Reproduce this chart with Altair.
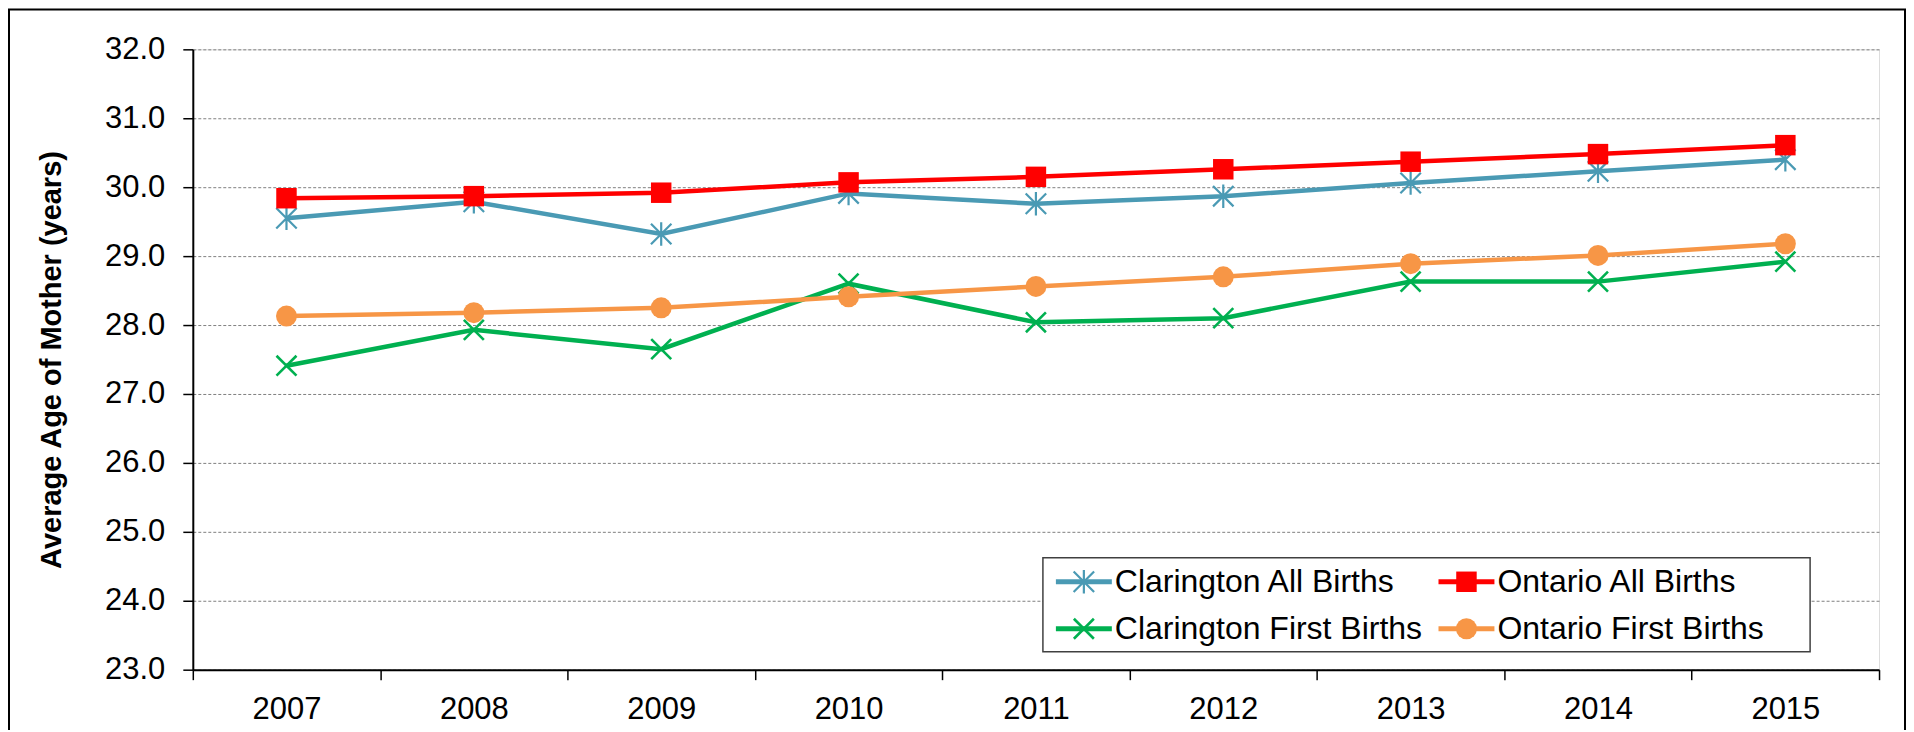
import altair as alt
import pandas as pd

# ---------------- data ----------------
years = [2007, 2008, 2009, 2010, 2011, 2012, 2013, 2014, 2015]
series_names = [
    "Clarington All Births",
    "Ontario All Births",
    "Clarington First Births",
    "Ontario First Births",
]
clarington_all = [29.55, 29.79, 29.32, 29.91, 29.76, 29.87, 30.06, 30.23, 30.40]
ontario_all = [29.84, 29.87, 29.92, 30.07, 30.15, 30.26, 30.37, 30.48, 30.61]
clarington_first = [27.41, 27.93, 27.65, 28.60, 28.04, 28.10, 28.63, 28.63, 28.92]
ontario_first = [28.13, 28.18, 28.25, 28.41, 28.56, 28.70, 28.89, 29.01, 29.18]
y_ticks = [23.0, 24.0, 25.0, 26.0, 27.0, 28.0, 29.0, 30.0, 31.0, 32.0]
y_title = "Average Age of Mother (years)"

series_values = [clarington_all, ontario_all, clarington_first, ontario_first]

# ---------------- styles ----------------
FONT = "Liberation Sans"
colors = ["#4A9AB4", "#FF0000", "#00B050", "#F79646"]
ASTERISK = "M-1,-1L1,1M-1,1L1,-1M0,-1.15L0,1.15"
XMARK = "M-1,-1L1,1M-1,1L1,-1"
shapes = [ASTERISK, "square", XMARK, "circle"]
filled = [False, True, False, True]
sizes = [420, 420, 400, 441]
mstroke = [2.2, 0, 2.6, 0]

W, H = 1688, 621

x_enc = alt.X(
    "year:O",
    bandPosition=0.5,
    scale=alt.Scale(type="band", paddingInner=0, paddingOuter=0),
    axis=alt.Axis(
        title=None,
        tickBand="extent",
        labelAngle=0,
        labelFont=FONT,
        labelFontSize=31,
        labelColor="#000000",
        labelPadding=15,
        tickSize=10,
        tickColor="#000000",
        tickWidth=1.5,
        domainColor="#000000",
        domainWidth=2,
        grid=False,
    ),
)
y_enc = alt.Y(
    "age:Q",
    scale=alt.Scale(domain=[23, 32], nice=False, zero=False),
    axis=alt.Axis(
        values=y_ticks,
        format=".1f",
        title=y_title,
        titleFont=FONT,
        titleFontSize=29,
        titleFontWeight="bold",
        titleColor="#000000",
        titleAngle=270,
        titleAlign="center",
        titleBaseline="middle",
        titleX=-141,
        titleY=H / 2,
        labelFont=FONT,
        labelFontSize=31,
        labelColor="#000000",
        labelPadding=18,
        tickSize=10,
        tickColor="#000000",
        tickWidth=1.5,
        domainColor="#000000",
        domainWidth=2,
        grid=True,
        gridColor="#808080",
        gridDash=[3, 2],
        gridWidth=1,
    ),
)

dummy = pd.DataFrame({"d": [0]})
layers = []

# outer frame
layers.append(
    alt.Chart(dummy)
    .mark_rect(fillOpacity=0, stroke="#000000", strokeWidth=2)
    .encode(x=alt.value(-184), x2=alt.value(1714), y=alt.value(-40), y2=alt.value(720))
)

# series
for i, name in enumerate(series_names):
    d = pd.DataFrame({"year": [str(y) for y in years], "age": series_values[i], "series": name})
    layers.append(
        alt.Chart(d).mark_line(color=colors[i], strokeWidth=4.5).encode(x=x_enc, y=y_enc)
    )
    layers.append(
        alt.Chart(d)
        .mark_point(
            shape=shapes[i],
            filled=filled[i],
            size=sizes[i],
            color=colors[i],
            strokeWidth=mstroke[i],
            opacity=1,
        )
        .encode(x=x_enc, y=y_enc)
    )

# legend
LX0, LX1, LY0, LY1 = 851, 1619, 509, 603
layers.append(
    alt.Chart(dummy)
    .mark_rect(fill="#FFFFFF", stroke="#404040", strokeWidth=1.5)
    .encode(x=alt.value(LX0), x2=alt.value(LX1), y=alt.value(LY0), y2=alt.value(LY1))
)
col_x = [864, 1247]
row_y = [533, 580]
for i, name in enumerate(series_names):
    cx = col_x[i % 2]
    ry = row_y[i // 2]
    layers.append(
        alt.Chart(dummy)
        .mark_rule(color=colors[i], strokeWidth=5)
        .encode(x=alt.value(cx), x2=alt.value(cx + 56), y=alt.value(ry))
    )
    layers.append(
        alt.Chart(dummy)
        .mark_point(
            shape=shapes[i],
            filled=filled[i],
            size=sizes[i],
            color=colors[i],
            strokeWidth=mstroke[i],
            opacity=1,
        )
        .encode(x=alt.value(cx + 28), y=alt.value(ry))
    )
    layers.append(
        alt.Chart(dummy)
        .mark_text(align="left", baseline="middle", font=FONT, fontSize=32, color="#000000")
        .encode(x=alt.value(cx + 59), y=alt.value(ry), text=alt.value(name))
    )

chart = (
    alt.layer(*layers)
    .properties(
        width=W,
        height=H,
        padding={"left": 185, "top": 41, "right": 27, "bottom": 60},
        autosize=alt.AutoSizeParams(type="none"),
        background="#FFFFFF",
    )
    .configure_view(stroke="#595959", strokeWidth=2)
    .configure(font=FONT)
)

chart.save("out.html", embed_options={"renderer": "svg", "actions": False})
